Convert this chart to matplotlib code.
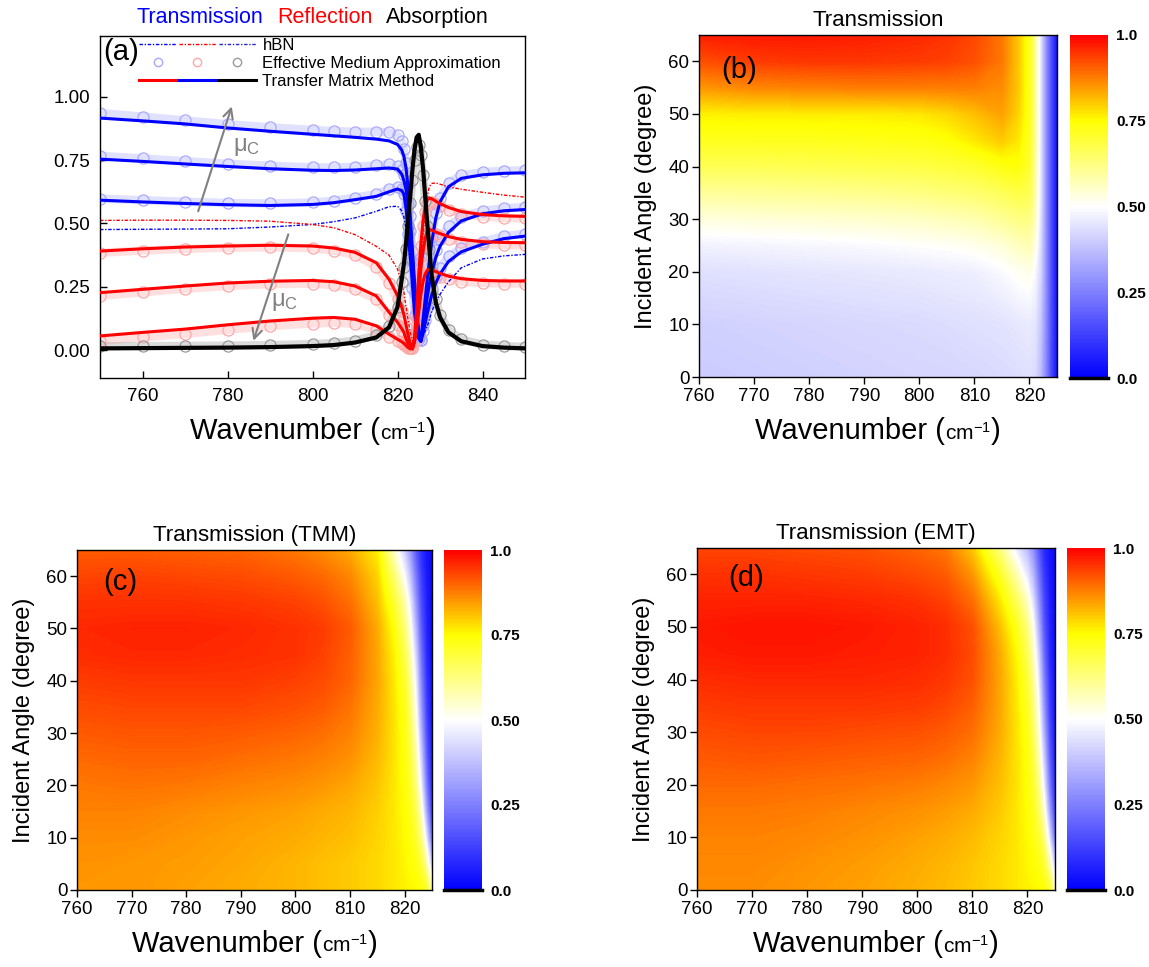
import numpy as np
import matplotlib
matplotlib.use('Agg')
import matplotlib.pyplot as plt
from matplotlib.colors import LinearSegmentedColormap, Normalize
from matplotlib.cm import ScalarMappable
from matplotlib.lines import Line2D
from matplotlib.legend_handler import HandlerTuple
from matplotlib.offsetbox import TextArea, HPacker, AnchoredOffsetbox

plt.rcParams['font.family'] = ['Liberation Sans', 'DejaVu Sans']
plt.rcParams['mathtext.fontset'] = 'custom'
plt.rcParams['mathtext.rm'] = 'Liberation Sans'
plt.rcParams['mathtext.it'] = 'Liberation Sans:italic'
plt.rcParams['mathtext.bf'] = 'Liberation Sans:bold'

# ---------------- panel (a) data ----------------
wn_a = [750, 760, 770, 780, 790, 800, 805, 810, 815, 818, 820,
        821, 821.5, 822, 822.5, 823, 823.5, 824, 824.5, 825, 825.5, 826, 826.5, 827, 827.5, 828,
        829, 830, 832, 835, 840, 845, 850]

T_tmm_1 = [0.916, 0.905, 0.893, 0.877, 0.864, 0.852, 0.846, 0.840, 0.833, 0.826, 0.812,
           0.790, 0.765, 0.720, 0.640, 0.530, 0.400, 0.270, 0.160, 0.070, 0.035, 0.120, 0.200, 0.280, 0.350, 0.420,
           0.520, 0.585, 0.645, 0.678, 0.692, 0.698, 0.700]
T_ema_1 = [0.936, 0.922, 0.907, 0.892, 0.880, 0.869, 0.865, 0.862, 0.862, 0.860, 0.848,
           0.825, 0.795, 0.740, 0.650, 0.530, 0.390, 0.260, 0.150, 0.065, 0.040, 0.130, 0.220, 0.300, 0.375, 0.445,
           0.540, 0.600, 0.660, 0.690, 0.703, 0.708, 0.710]
T_tmm_2 = [0.754, 0.745, 0.735, 0.725, 0.716, 0.710, 0.709, 0.711, 0.716, 0.719, 0.715,
           0.695, 0.670, 0.635, 0.575, 0.480, 0.370, 0.240, 0.140, 0.060, 0.035, 0.090, 0.150, 0.210, 0.260, 0.300,
           0.365, 0.410, 0.465, 0.510, 0.538, 0.550, 0.555]
T_ema_2 = [0.767, 0.757, 0.746, 0.736, 0.728, 0.722, 0.721, 0.724, 0.730, 0.733, 0.728,
           0.712, 0.690, 0.645, 0.575, 0.470, 0.350, 0.225, 0.125, 0.055, 0.040, 0.100, 0.170, 0.235, 0.290, 0.335,
           0.395, 0.440, 0.490, 0.527, 0.550, 0.560, 0.565]
T_tmm_3 = [0.592, 0.585, 0.579, 0.574, 0.571, 0.575, 0.582, 0.594, 0.607, 0.625, 0.636,
           0.630, 0.615, 0.560, 0.470, 0.370, 0.260, 0.150, 0.085, 0.045, 0.035, 0.065, 0.105, 0.145, 0.180, 0.215,
           0.265, 0.300, 0.350, 0.388, 0.418, 0.440, 0.450]
T_ema_3 = [0.598, 0.592, 0.586, 0.581, 0.579, 0.583, 0.590, 0.602, 0.617, 0.635, 0.645,
           0.638, 0.615, 0.550, 0.460, 0.355, 0.245, 0.140, 0.080, 0.045, 0.040, 0.075, 0.120, 0.165, 0.205, 0.240,
           0.290, 0.325, 0.370, 0.402, 0.428, 0.450, 0.460]
T_hbn = [0.476, 0.477, 0.478, 0.479, 0.486, 0.496, 0.507, 0.522, 0.548, 0.566, 0.568,
         0.550, 0.525, 0.480, 0.420, 0.350, 0.280, 0.200, 0.130, 0.070, 0.045, 0.055, 0.075, 0.095, 0.120, 0.150,
         0.190, 0.220, 0.270, 0.325, 0.360, 0.372, 0.378]

R_tmm_1 = [0.391, 0.400, 0.407, 0.411, 0.414, 0.411, 0.403, 0.386, 0.345, 0.280, 0.215,
           0.170, 0.140, 0.100, 0.060, 0.025, 0.008, 0.050, 0.160, 0.300, 0.420, 0.510, 0.565, 0.593, 0.600, 0.598,
           0.588, 0.578, 0.563, 0.547, 0.535, 0.530, 0.528]
R_ema_1 = [0.384, 0.393, 0.400, 0.404, 0.406, 0.402, 0.393, 0.375, 0.330, 0.265, 0.200,
           0.155, 0.125, 0.090, 0.050, 0.020, 0.010, 0.060, 0.170, 0.300, 0.410, 0.490, 0.545, 0.575, 0.585, 0.585,
           0.577, 0.568, 0.553, 0.538, 0.527, 0.522, 0.520]
R_tmm_2 = [0.227, 0.240, 0.253, 0.265, 0.272, 0.275, 0.270, 0.253, 0.214, 0.150, 0.110,
           0.085, 0.070, 0.045, 0.025, 0.010, 0.005, 0.040, 0.120, 0.220, 0.320, 0.390, 0.440, 0.470, 0.476, 0.474,
           0.466, 0.460, 0.448, 0.437, 0.428, 0.425, 0.424]
R_ema_2 = [0.214, 0.228, 0.242, 0.253, 0.260, 0.262, 0.256, 0.240, 0.200, 0.140, 0.100,
           0.075, 0.060, 0.040, 0.020, 0.010, 0.008, 0.045, 0.125, 0.220, 0.310, 0.375, 0.425, 0.455, 0.465, 0.465,
           0.458, 0.450, 0.438, 0.427, 0.418, 0.415, 0.414]
R_tmm_3 = [0.056, 0.070, 0.083, 0.100, 0.115, 0.126, 0.129, 0.122, 0.096, 0.063, 0.043,
           0.033, 0.027, 0.018, 0.010, 0.005, 0.005, 0.030, 0.080, 0.150, 0.220, 0.270, 0.300, 0.315, 0.320, 0.318,
           0.310, 0.303, 0.292, 0.282, 0.275, 0.273, 0.273]
R_ema_3 = [0.036, 0.050, 0.064, 0.080, 0.095, 0.105, 0.108, 0.103, 0.080, 0.052, 0.035,
           0.027, 0.022, 0.015, 0.010, 0.008, 0.010, 0.035, 0.085, 0.150, 0.210, 0.255, 0.285, 0.300, 0.305, 0.304,
           0.297, 0.290, 0.280, 0.270, 0.265, 0.263, 0.263]
R_hbn = [0.512, 0.513, 0.513, 0.512, 0.509, 0.496, 0.483, 0.456, 0.410, 0.375, 0.320,
         0.260, 0.230, 0.170, 0.120, 0.070, 0.040, 0.030, 0.080, 0.200, 0.330, 0.450, 0.550, 0.610, 0.645, 0.658,
         0.660, 0.655, 0.645, 0.635, 0.623, 0.612, 0.604]

A_tmm = [0.007, 0.008, 0.009, 0.010, 0.012, 0.016, 0.020, 0.030, 0.050, 0.090, 0.170,
         0.280, 0.340, 0.420, 0.520, 0.610, 0.710, 0.790, 0.840, 0.850, 0.800, 0.720, 0.610, 0.500, 0.400, 0.300,
         0.190, 0.130, 0.070, 0.035, 0.016, 0.010, 0.007]
A_ema = [0.015, 0.016, 0.017, 0.018, 0.020, 0.024, 0.028, 0.038, 0.058, 0.095, 0.170,
         0.270, 0.330, 0.400, 0.490, 0.580, 0.670, 0.750, 0.800, 0.810, 0.770, 0.690, 0.590, 0.490, 0.400, 0.310,
         0.200, 0.140, 0.080, 0.042, 0.022, 0.016, 0.013]

# ---------------- heat-map data ----------------
map_wn = [760, 770, 780, 790, 800, 805, 810, 815, 818, 820, 821, 822, 823, 824, 825]

angle_b = [0, 10, 20, 25, 30, 35, 40, 45, 50, 55, 60, 65]
T_exp = [
    [0.400, 0.405, 0.410, 0.415, 0.420, 0.420, 0.425, 0.430, 0.435, 0.440, 0.430, 0.370, 0.260, 0.130, 0.030],
    [0.410, 0.415, 0.420, 0.425, 0.430, 0.435, 0.440, 0.445, 0.455, 0.460, 0.450, 0.390, 0.270, 0.140, 0.030],
    [0.440, 0.445, 0.450, 0.455, 0.460, 0.465, 0.470, 0.490, 0.510, 0.520, 0.490, 0.420, 0.280, 0.140, 0.030],
    [0.475, 0.480, 0.485, 0.490, 0.500, 0.505, 0.515, 0.535, 0.560, 0.570, 0.530, 0.430, 0.280, 0.140, 0.030],
    [0.530, 0.535, 0.540, 0.545, 0.555, 0.565, 0.575, 0.600, 0.620, 0.620, 0.560, 0.440, 0.280, 0.140, 0.030],
    [0.595, 0.600, 0.605, 0.610, 0.620, 0.630, 0.640, 0.660, 0.680, 0.670, 0.580, 0.450, 0.280, 0.140, 0.030],
    [0.665, 0.665, 0.670, 0.675, 0.680, 0.690, 0.700, 0.730, 0.740, 0.700, 0.590, 0.450, 0.280, 0.140, 0.030],
    [0.720, 0.720, 0.720, 0.725, 0.730, 0.740, 0.770, 0.800, 0.770, 0.710, 0.600, 0.450, 0.280, 0.140, 0.030],
    [0.760, 0.765, 0.765, 0.765, 0.770, 0.785, 0.810, 0.840, 0.790, 0.720, 0.600, 0.450, 0.280, 0.140, 0.030],
    [0.850, 0.865, 0.870, 0.875, 0.875, 0.875, 0.875, 0.860, 0.800, 0.720, 0.600, 0.450, 0.280, 0.140, 0.030],
    [0.920, 0.940, 0.945, 0.945, 0.940, 0.935, 0.920, 0.880, 0.800, 0.720, 0.600, 0.450, 0.280, 0.140, 0.030],
    [0.970, 0.975, 0.975, 0.970, 0.960, 0.950, 0.930, 0.880, 0.800, 0.720, 0.600, 0.450, 0.280, 0.140, 0.030],
]

angle_cd = [0, 5, 10, 15, 20, 25, 30, 35, 40, 45, 50, 55, 60, 65]
T_tmm_map = [
    [0.850, 0.850, 0.840, 0.830, 0.820, 0.810, 0.800, 0.785, 0.770, 0.760, 0.755, 0.750, 0.740, 0.700, 0.580],
    [0.855, 0.850, 0.845, 0.835, 0.820, 0.810, 0.800, 0.785, 0.770, 0.755, 0.745, 0.730, 0.690, 0.580, 0.380],
    [0.860, 0.860, 0.850, 0.840, 0.830, 0.820, 0.810, 0.790, 0.770, 0.750, 0.735, 0.700, 0.620, 0.440, 0.200],
    [0.870, 0.870, 0.860, 0.850, 0.840, 0.830, 0.820, 0.795, 0.770, 0.745, 0.720, 0.670, 0.550, 0.320, 0.110],
    [0.880, 0.885, 0.880, 0.870, 0.860, 0.850, 0.835, 0.805, 0.770, 0.740, 0.700, 0.630, 0.470, 0.240, 0.070],
    [0.895, 0.900, 0.900, 0.890, 0.880, 0.870, 0.855, 0.815, 0.775, 0.735, 0.685, 0.590, 0.410, 0.190, 0.050],
    [0.910, 0.915, 0.915, 0.910, 0.900, 0.890, 0.870, 0.825, 0.775, 0.730, 0.665, 0.550, 0.350, 0.150, 0.040],
    [0.925, 0.930, 0.930, 0.930, 0.920, 0.910, 0.885, 0.830, 0.775, 0.720, 0.640, 0.510, 0.300, 0.120, 0.030],
    [0.940, 0.945, 0.945, 0.945, 0.935, 0.925, 0.900, 0.835, 0.770, 0.700, 0.610, 0.470, 0.260, 0.100, 0.030],
    [0.955, 0.960, 0.960, 0.955, 0.950, 0.935, 0.905, 0.835, 0.760, 0.670, 0.570, 0.420, 0.220, 0.080, 0.020],
    [0.960, 0.965, 0.965, 0.960, 0.950, 0.940, 0.910, 0.830, 0.740, 0.630, 0.520, 0.360, 0.180, 0.070, 0.020],
    [0.950, 0.950, 0.950, 0.945, 0.935, 0.920, 0.890, 0.810, 0.700, 0.580, 0.460, 0.300, 0.150, 0.060, 0.020],
    [0.930, 0.935, 0.930, 0.925, 0.910, 0.895, 0.865, 0.790, 0.640, 0.490, 0.380, 0.240, 0.120, 0.050, 0.020],
    [0.910, 0.910, 0.905, 0.900, 0.880, 0.860, 0.830, 0.760, 0.550, 0.400, 0.300, 0.180, 0.090, 0.040, 0.020],
]
T_emt_map = [
    [0.860, 0.860, 0.850, 0.840, 0.825, 0.815, 0.800, 0.785, 0.770, 0.760, 0.755, 0.750, 0.740, 0.700, 0.580],
    [0.865, 0.865, 0.855, 0.845, 0.830, 0.820, 0.805, 0.785, 0.770, 0.755, 0.745, 0.730, 0.690, 0.580, 0.380],
    [0.870, 0.870, 0.865, 0.855, 0.840, 0.830, 0.815, 0.790, 0.770, 0.750, 0.730, 0.700, 0.620, 0.440, 0.200],
    [0.880, 0.880, 0.875, 0.865, 0.855, 0.845, 0.830, 0.800, 0.770, 0.745, 0.715, 0.660, 0.540, 0.320, 0.110],
    [0.895, 0.895, 0.890, 0.885, 0.875, 0.865, 0.850, 0.810, 0.775, 0.740, 0.700, 0.620, 0.460, 0.240, 0.070],
    [0.910, 0.915, 0.910, 0.905, 0.900, 0.890, 0.870, 0.820, 0.775, 0.735, 0.680, 0.580, 0.400, 0.190, 0.050],
    [0.925, 0.930, 0.930, 0.925, 0.920, 0.910, 0.890, 0.830, 0.775, 0.725, 0.655, 0.540, 0.340, 0.150, 0.040],
    [0.940, 0.945, 0.945, 0.945, 0.940, 0.930, 0.905, 0.835, 0.770, 0.710, 0.630, 0.500, 0.290, 0.120, 0.030],
    [0.955, 0.960, 0.960, 0.960, 0.955, 0.945, 0.920, 0.835, 0.765, 0.690, 0.600, 0.460, 0.250, 0.100, 0.030],
    [0.970, 0.975, 0.975, 0.970, 0.965, 0.955, 0.925, 0.830, 0.750, 0.660, 0.560, 0.410, 0.210, 0.080, 0.020],
    [0.975, 0.980, 0.980, 0.975, 0.965, 0.955, 0.920, 0.810, 0.720, 0.620, 0.510, 0.350, 0.170, 0.070, 0.020],
    [0.965, 0.965, 0.965, 0.960, 0.950, 0.935, 0.890, 0.770, 0.660, 0.550, 0.440, 0.290, 0.140, 0.060, 0.020],
    [0.950, 0.950, 0.945, 0.940, 0.925, 0.910, 0.850, 0.710, 0.570, 0.450, 0.360, 0.230, 0.110, 0.050, 0.020],
    [0.930, 0.930, 0.925, 0.920, 0.900, 0.880, 0.800, 0.620, 0.460, 0.360, 0.280, 0.170, 0.080, 0.040, 0.020],
]

cbar_ticks = [0.0, 0.25, 0.5, 0.75, 1.0]
cbar_labels = ['0.0', '0.25', '0.50', '0.75', '1.0']

# ---------------- styling ----------------
W, H = 1149, 967
fig = plt.figure(figsize=(W / 100, H / 100), dpi=100)

cmap = LinearSegmentedColormap.from_list(
    'bwyr', [(0.0, '#0000ff'), (0.5, '#ffffff'), (0.75, '#ffff00'), (1.0, '#ff0000')])


def fig_rect(x0, y0, x1, y1):
    return [x0 / W, 1 - y1 / H, (x1 - x0) / W, (y1 - y0) / H]


def wavenumber_label(ax, yfrac):
    parts = [TextArea("Wavenumber (", textprops=dict(fontsize=21)),
             TextArea(r"cm$^{\mathregular{-1}}$", textprops=dict(fontsize=15)),
             TextArea(")", textprops=dict(fontsize=21))]
    box = HPacker(children=parts, align="baseline", pad=0, sep=0)
    anch = AnchoredOffsetbox(loc='upper center', child=box, pad=0, borderpad=0,
                             frameon=False, bbox_to_anchor=(0.5, yfrac),
                             bbox_transform=ax.transAxes)
    ax.add_artist(anch)


# ---------------- panel (a) ----------------
axa = fig.add_axes(fig_rect(100, 36, 525, 378))
ema_blue = '#a8a8ff'
ema_red = '#ffa8a8'
ema_gray = '#9a9a9a'
hbn_ls = (0, (2.5, 1.2, 1, 1.2))

for ys, c in [(T_ema_1, ema_blue), (T_ema_2, ema_blue), (T_ema_3, ema_blue),
              (R_ema_1, ema_red), (R_ema_2, ema_red), (R_ema_3, ema_red),
              (A_ema, ema_gray)]:
    axa.plot(wn_a, ys, color=c, lw=6, alpha=0.35, solid_capstyle='round', zorder=1)
    axa.plot(wn_a, ys, ls='none', marker='o', ms=8, mfc='none', mec=c, mew=0.9, zorder=1.5)

axa.plot(wn_a, T_hbn, color='blue', lw=1.0, ls=hbn_ls, zorder=2)
axa.plot(wn_a, R_hbn, color='red', lw=1.0, ls=hbn_ls, zorder=2)

for ys in (T_tmm_1, T_tmm_2, T_tmm_3):
    axa.plot(wn_a, ys, color='blue', lw=2.2, zorder=3)
for ys in (R_tmm_1, R_tmm_2, R_tmm_3):
    axa.plot(wn_a, ys, color='red', lw=2.2, zorder=3)
axa.plot(wn_a, A_tmm, color='black', lw=3.0, zorder=4)

axa.set_xlim(750, 850)
axa.set_ylim(-0.11, 1.24)
axa.set_xticks([760, 780, 800, 820, 840])
axa.set_yticks([0, 0.25, 0.5, 0.75, 1.0])
axa.set_yticklabels(['0.00', '0.25', '0.50', '0.75', '1.00'])
axa.tick_params(direction='in', length=5, width=1, labelsize=13.5, pad=7)
for s in axa.spines.values():
    s.set_linewidth(1.0)

# arrows and mu_C labels
axa.annotate('', xy=(781.0, 0.962), xytext=(773.1, 0.548),
             arrowprops=dict(arrowstyle='->,head_length=0.7,head_width=0.35', color='gray',
                             lw=1.5, shrinkA=0, shrinkB=0), zorder=5)
axa.annotate('', xy=(786.1, 0.037), xytext=(794.3, 0.457),
             arrowprops=dict(arrowstyle='->,head_length=0.7,head_width=0.35', color='gray',
                             lw=1.5, shrinkA=0, shrinkB=0), zorder=5)
axa.text(784.5, 0.80, r'$\mathregular{μ_C}$', color='gray', fontsize=17, ha='center', va='center', zorder=5)
axa.text(793.5, 0.19, r'$\mathregular{μ_C}$', color='gray', fontsize=17, ha='center', va='center', zorder=5)

axa.text(0.007, 0.952, '(a)', transform=axa.transAxes, fontsize=21, ha='left', va='center')

h_hbn = (Line2D([], [], color='blue', lw=1, ls=hbn_ls),
         Line2D([], [], color='red', lw=1, ls=hbn_ls),
         Line2D([], [], color='#2828c8', lw=1, ls=hbn_ls))
h_ema = (Line2D([], [], ls='none', marker='o', ms=6, mfc='none', mec=ema_blue),
         Line2D([], [], ls='none', marker='o', ms=6, mfc='none', mec=ema_red),
         Line2D([], [], ls='none', marker='o', ms=6, mfc='none', mec=ema_gray))
h_tmm = (Line2D([], [], color='red', lw=2.2),
         Line2D([], [], color='blue', lw=2.2),
         Line2D([], [], color='black', lw=2.2))
axa.legend([h_hbn, h_ema, h_tmm],
           ['hBN', 'Effective Medium Approximation', 'Transfer Matrix Method'],
           handler_map={tuple: HandlerTuple(ndivide=None, pad=0.15)},
           loc='upper left', bbox_to_anchor=(0.088, 1.0), frameon=False, fontsize=12,
           handlelength=7.0, handletextpad=0.4, labelspacing=0.2, borderpad=0.1,
           borderaxespad=0, numpoints=1)

title_parts = [TextArea("Transmission", textprops=dict(fontsize=15.5, color='blue')),
               TextArea("Reflection", textprops=dict(fontsize=15.5, color='red')),
               TextArea("Absorption", textprops=dict(fontsize=15.5, color='black'))]
tbox = HPacker(children=title_parts, align="baseline", pad=0, sep=10)
axa.add_artist(AnchoredOffsetbox(loc='lower center', child=tbox, pad=0, borderpad=0,
                                 frameon=False, bbox_to_anchor=(0.5, 1.022),
                                 bbox_transform=axa.transAxes))
wavenumber_label(axa, -0.115)


# ---------------- heat maps ----------------
def heat_panel(rect, crect, angles, Z, title, letter, letter_xy):
    ax = fig.add_axes(fig_rect(*rect))
    ax.contourf(map_wn, angles, np.array(Z), levels=np.linspace(0, 1, 256), cmap=cmap,
                vmin=0, vmax=1, antialiased=False)
    ax.set_xlim(760, 825)
    ax.set_ylim(0, 65)
    ax.set_xticks([760, 770, 780, 790, 800, 810, 820])
    ax.set_yticks([0, 10, 20, 30, 40, 50, 60])
    ax.tick_params(axis='x', direction='out', length=5, width=1, labelsize=13.5, pad=3)
    ax.tick_params(axis='y', direction='out', length=5, width=1, labelsize=13.5, pad=2)
    for s in ax.spines.values():
        s.set_linewidth(1.0)
    ax.set_title(title, fontsize=16, pad=6.5)
    ax.set_ylabel('Incident Angle (degree)', fontsize=17, va='center')
    ax.yaxis.set_label_coords(-53 / (rect[2] - rect[0]), 0.5)
    wavenumber_label(ax, -0.118)
    ax.text(letter_xy[0], letter_xy[1], letter, transform=ax.transAxes, fontsize=21,
            ha='center', va='center')

    cax = fig.add_axes(fig_rect(*crect))
    cb = fig.colorbar(ScalarMappable(norm=Normalize(0, 1), cmap=cmap), cax=cax)
    cb.outline.set_visible(False)
    cb.set_ticks(cbar_ticks)
    cb.set_ticklabels(cbar_labels)
    cax.tick_params(length=0, pad=6, labelsize=11)
    for lab in cax.get_yticklabels():
        lab.set_fontweight('bold')
    cax.axhline(0, color='black', lw=2.5, clip_on=False)
    return ax


heat_panel((699, 35, 1057, 377), (1070, 35, 1108, 378), angle_b, T_exp,
           'Transmission', '(b)', (0.112, 0.898))
heat_panel((77, 550, 432, 890), (444, 550, 482, 890), angle_cd, T_tmm_map,
           'Transmission (TMM)', '(c)', (0.1225, 0.906))
heat_panel((697, 548, 1055, 890), (1067, 548, 1105, 890), angle_cd, T_emt_map,
           'Transmission (EMT)', '(d)', (0.136, 0.912))

fig.savefig('out.png', dpi=100)
